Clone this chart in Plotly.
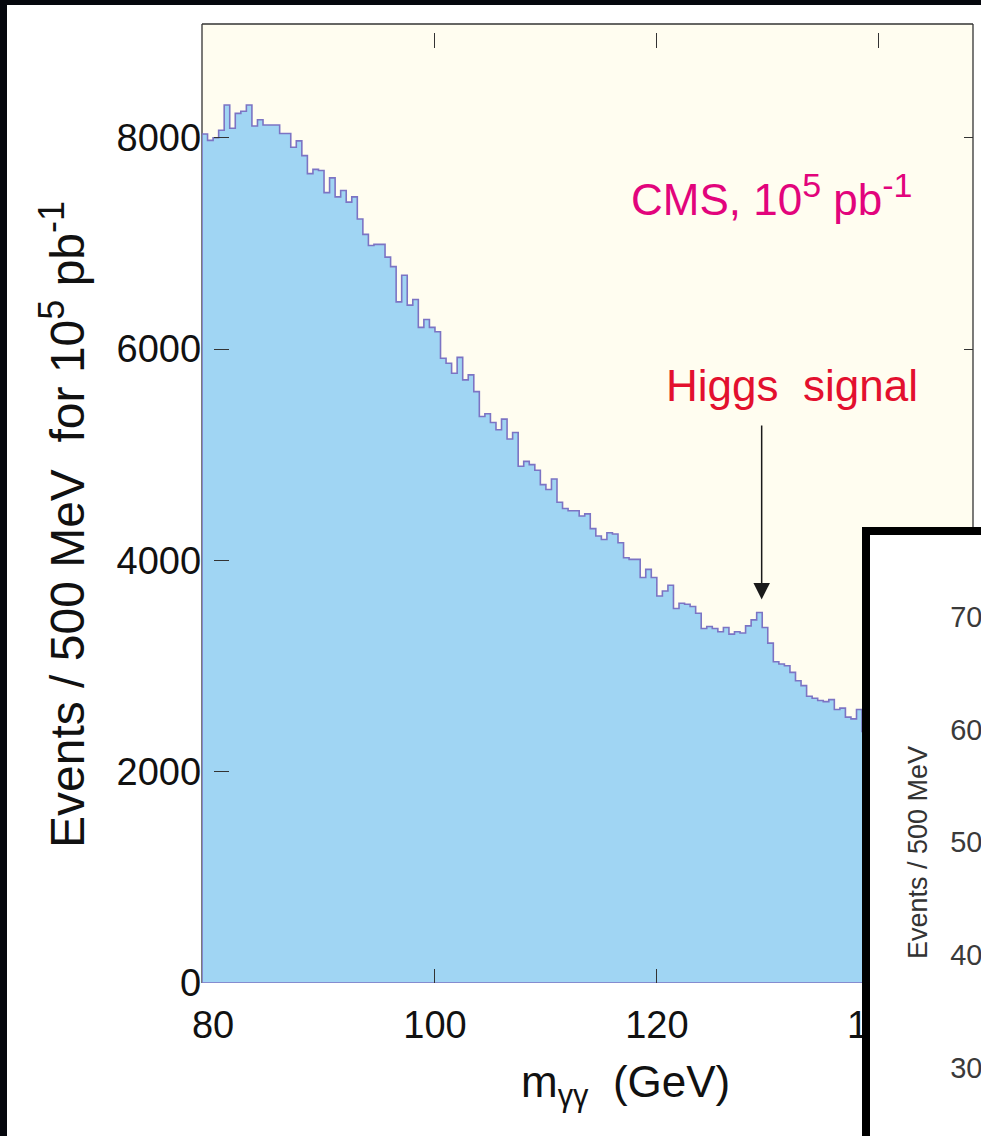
import plotly.graph_objects as go

# ---------------- data ----------------
BIN_START = 79.0      # GeV, lower edge of first bin
BIN_WIDTH = 0.5       # GeV (500 MeV bins)

events = [
    8035, 7975, 8000, 8070, 8310, 8090, 8230, 8250, 8310, 8110,
    8170, 8120, 8120, 8120, 8040, 8040, 7910, 7970, 7830, 7660,
    7700, 7690, 7480, 7620, 7440, 7500, 7390, 7440, 7230, 7085,
    6980, 6990, 6990, 6870, 6780, 6446, 6698, 6415, 6469, 6205,
    6280, 6205, 6163, 5912, 5865, 5771, 5921, 5708, 5755, 5597,
    5361, 5387, 5305, 5236, 5337, 5148, 5210, 4890, 4937, 4906,
    4852, 4717, 4670, 4770, 4550, 4490, 4470, 4470, 4420, 4440,
    4300, 4230, 4198, 4261, 4250, 4167, 4025, 4009, 4009, 3837,
    3915, 3837, 3663, 3710, 3764, 3544, 3594, 3585, 3563, 3500,
    3355, 3374, 3355, 3324, 3365, 3302, 3324, 3312, 3380, 3437,
    3507, 3365, 3217, 3041, 3019, 3003, 2940, 2861, 2814, 2714,
    2695, 2673, 2663, 2682, 2588, 2601, 2516, 2500, 2588, 2380,
    2440, 2360, 2330, 2310, 2290, 2240, 2230, 2210, 2180, 2160,
    2120, 2110, 2090, 2050, 2040, 2020, 1990, 1980, 1950,
]

x_tick_labels = [80, 100, 120, 140]
x_tick_marks = [100, 120, 140]
y_ticks = [0, 2000, 4000, 6000, 8000]
inset_y_ticks = [30, 40, 50, 60, 70]

X_RANGE = [79.0, 148.5]
Y_RANGE = [0, 9076]
INSET_Y_RANGE = [23.98, 77.22]
SIGNAL_WINDOW = [125.0, 135.0]
ARROW_TIP = 3630
ARROW_TAIL = 5290

# ---------------- style ----------------
FIG_W, FIG_H = 981, 1136
FONT = "Liberation Sans, Arial, sans-serif"
CREAM = "#FFFDF0"
FILL = "#A0D5F3"
OUTLINE = "#7C74C4"
FRAME = "#333333"
CMS_COLOR = "#E2047C"
HIGGS_COLOR = "#E3102E"


def px_x(p):
    return p / FIG_W


def px_y(p):
    return 1 - p / FIG_H


def sup(t, size):
    return "<sup><span style='font-size:%dpx'>%s</span></sup>" % (size, t)


X_DOM = [px_x(202), px_x(973)]
Y_DOM = [px_y(983), px_y(24)]


def x_to_paper(v):
    return X_DOM[0] + (v - X_RANGE[0]) / (X_RANGE[1] - X_RANGE[0]) * (X_DOM[1] - X_DOM[0])


def y_to_paper(v):
    return Y_DOM[0] + (v - Y_RANGE[0]) / (Y_RANGE[1] - Y_RANGE[0]) * (Y_DOM[1] - Y_DOM[0])


# step outline of the histogram (closed polygon)
n = len(events)
edges = [BIN_START + i * BIN_WIDTH for i in range(n + 1)]
hx = [edges[0]] + edges[:n] + [edges[n], edges[n], edges[0]]
hy = [0] + events + [events[-1], 0, 0]

# Higgs peak position from the data
centers = [e + BIN_WIDTH / 2 for e in edges[:n]]
win = [i for i, c in enumerate(centers) if SIGNAL_WINDOW[0] <= c <= SIGNAL_WINDOW[1]]
peak_i = max(win, key=lambda i: events[i])
peak_x = centers[peak_i] + 0.2

fig = go.Figure()

fig.add_trace(go.Scatter(
    x=hx, y=hy, mode="lines",
    line=dict(shape="hv", color=OUTLINE, width=1.6),
    fill="toself", fillcolor=FILL,
    xaxis="x", yaxis="y", hoverinfo="skip", showlegend=False,
))
# carriers for the extra tick axes
for xa, ya in (("x3", "y"), ("x4", "y"), ("x", "y3")):
    fig.add_trace(go.Scatter(x=[], y=[], xaxis=xa, yaxis=ya,
                             hoverinfo="skip", showlegend=False))

# inset panel (white background)
fig.add_trace(go.Scatter(
    x=[0, 1, 1, 0], y=[INSET_Y_RANGE[0], INSET_Y_RANGE[0], INSET_Y_RANGE[1], INSET_Y_RANGE[1]],
    mode="lines", line=dict(width=0), fill="toself", fillcolor="white",
    xaxis="x2", yaxis="y2", hoverinfo="skip", showlegend=False,
))

common = dict(showgrid=False, zeroline=False, fixedrange=True, automargin=False)

fig.update_layout(
    width=FIG_W, height=FIG_H, autosize=False,
    margin=dict(l=0, r=0, t=0, b=0, pad=0, autoexpand=False),
    paper_bgcolor="white", plot_bgcolor=CREAM,
    font=dict(family=FONT, color="#111111"),
    showlegend=False,
    xaxis=dict(domain=X_DOM, range=X_RANGE, anchor="y",
               tickmode="array", tickvals=x_tick_labels, ticks="",
               showline=False, tickfont=dict(size=38, color="#111111"),
               ticklabelstandoff=16, **common),
    xaxis3=dict(overlaying="x", anchor="y", side="bottom", range=X_RANGE,
                tickmode="array", tickvals=x_tick_marks, ticks="inside",
                ticklen=14, tickwidth=1.3, tickcolor=FRAME,
                showticklabels=False, showline=False, **common),
    xaxis4=dict(overlaying="x", anchor="free", position=y_to_paper(9000),
                side="top", range=X_RANGE,
                tickmode="array", tickvals=x_tick_marks, ticks="inside",
                ticklen=15, tickwidth=1.3, tickcolor=FRAME,
                showticklabels=False, showline=False, **common),
    yaxis=dict(domain=Y_DOM, range=Y_RANGE, anchor="free",
               position=x_to_paper(80), side="left",
               tickmode="array", tickvals=y_ticks, ticks="inside",
               ticklen=15, tickwidth=1.3, tickcolor=FRAME,
               showline=False, tickfont=dict(size=38, color="#111111"),
               ticklabelstandoff=12, **common),
    yaxis3=dict(overlaying="y", anchor="x", side="right", range=Y_RANGE,
                tickmode="array", tickvals=y_ticks[1:], ticks="inside",
                ticklen=9, tickwidth=1.3, tickcolor=FRAME,
                showticklabels=False, showline=False, **common),
    xaxis2=dict(domain=[px_x(870), 1], anchor="y2", range=[0, 1], side="top",
                showline=True, linewidth=8, linecolor="black",
                ticks="", showticklabels=False, **common),
    yaxis2=dict(domain=[0, px_y(535)], anchor="x2", range=INSET_Y_RANGE,
                side="left", showline=True, linewidth=8, linecolor="black",
                ticks="", tickmode="array", tickvals=inset_y_ticks,
                ticklabelposition="inside", ticklabelstandoff=83,
                tickfont=dict(size=29, color="#3a3a3a"), **common),
)

# frame of the main plot (below the histogram)
frame_lines = [((0, 1), (1, 1)), ((1, 0), (1, 1)), ((0, 0), (0, 1))]
for (x0, y0), (x1, y1) in frame_lines:
    fig.add_shape(type="line", xref="x domain", yref="y domain",
                  x0=x0, y0=y0, x1=x1, y1=y1, layer="below",
                  line=dict(color=FRAME, width=1.3))

# dark slide border strips
for x0, x1, y0, y1 in ((-0.01, px_x(7), -0.01, 1.01), (-0.01, 1.01, px_y(5), 1.01)):
    fig.add_shape(type="rect", xref="paper", yref="paper",
                  x0=x0, x1=x1, y0=y0, y1=y1, layer="above",
                  line=dict(width=0), fillcolor="#05070D")

annotations = [
    dict(text="CMS, 10" + sup("5", 34) + " pb" + sup("-1", 34),
         x=px_x(772), y=px_y(195), font=dict(size=44, color=CMS_COLOR)),
    dict(text="Higgs\u00a0 signal", x=px_x(792), y=px_y(385),
         font=dict(size=44, color=HIGGS_COLOR)),
    dict(text="Events / 500 MeV\u00a0 for 10" + sup("5", 36) + " pb" + sup("-1", 36),
         x=px_x(62), y=px_y(525), textangle=-90,
         font=dict(size=48, color="#111111")),
    dict(text="m<sub>\u03b3\u03b3</sub>\u00a0 (GeV)", x=px_x(625), y=px_y(1085),
         font=dict(size=44, color="#111111")),
    dict(text="Events / 500 MeV", x=px_x(918), y=px_y(853), textangle=-90,
         font=dict(size=27, color="#333333")),
]
for a in annotations:
    fig.add_annotation(xref="paper", yref="paper", showarrow=False,
                       xanchor="center", yanchor="middle", **a)

fig.add_annotation(x=peak_x, y=ARROW_TIP, ax=peak_x, ay=ARROW_TAIL,
                   xref="x", yref="y", axref="x", ayref="y", text="",
                   showarrow=True, arrowhead=2, arrowsize=2.2, arrowwidth=1.5,
                   arrowcolor="#1A1A1A", standoff=0)

# remove the default page margins so the figure starts at the window corner
PAGE_FIX = (
    "document.documentElement.style.margin='0';"
    "document.body.style.margin='0';"
    "document.body.style.overflow='hidden';"
)

fig.write_html(
    "out.html",
    config={"displayModeBar": False, "responsive": False},
    post_script=PAGE_FIX,
)
